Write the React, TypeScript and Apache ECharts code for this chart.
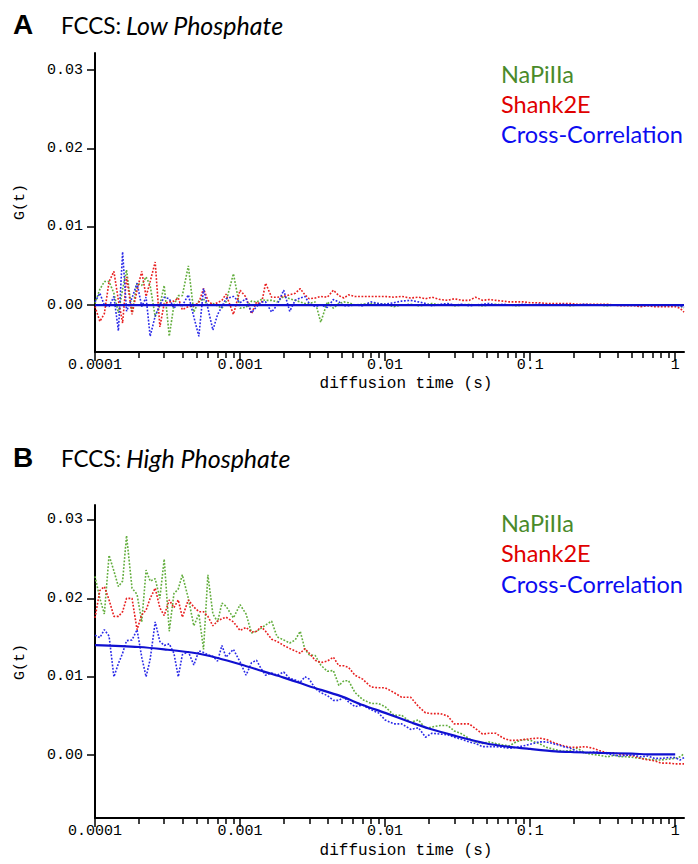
import React, { useEffect, useRef } from "react";
import * as echarts from "echarts";

// ---- shared lag-time axis (seconds) ----
const LAG_TIMES = [
  0.0001, 0.000108, 0.000116, 0.000125, 0.000135, 0.000145, 0.000155, 0.000165, 0.00018, 0.000195,
  0.00021, 0.000225, 0.00024, 0.00026, 0.00028, 0.0003, 0.000325, 0.00035, 0.000375, 0.0004,
  0.00044, 0.00048, 0.00052, 0.00056, 0.0006, 0.00065, 0.0007, 0.00075, 0.0008, 0.0009,
  0.001, 0.0011, 0.0012, 0.0013, 0.0014, 0.0015, 0.00165, 0.0018, 0.002, 0.0022,
  0.0024, 0.0026, 0.0028, 0.003, 0.0033, 0.0036, 0.004, 0.0044, 0.0048, 0.0052,
  0.0056, 0.0062, 0.007, 0.008, 0.009,
  0.01, 0.0115, 0.013, 0.015, 0.017, 0.019, 0.021, 0.024, 0.027, 0.03,
  0.034, 0.038, 0.042, 0.047, 0.052, 0.058, 0.065, 0.072, 0.08, 0.09,
  0.1, 0.115, 0.13, 0.15, 0.17, 0.19, 0.21, 0.24, 0.27, 0.3,
  0.34, 0.38, 0.42, 0.47, 0.52, 0.58, 0.65, 0.72, 0.8, 0.9,
  1.0, 1.08, 1.15,
];

const X_TICK_VALUES = [0.0001, 0.001, 0.01, 0.1, 1];
const X_TICK_LABELS = ["0.0001", "0.001", "0.01", "0.1", "1"];
const X_MINOR_TICKS = [
  0.0002, 0.0003, 0.0004, 0.0005, 0.0006, 0.0007, 0.0008, 0.0009,
  0.002, 0.003, 0.004, 0.005, 0.006, 0.007, 0.008, 0.009,
  0.02, 0.03, 0.04, 0.05, 0.06, 0.07, 0.08, 0.09,
  0.2, 0.3, 0.4, 0.5, 0.6, 0.7, 0.8, 0.9,
];
const X_MIN = 0.0001;
const X_MAX = 1.15;
const Y_TICKS = [0, 0.01, 0.02, 0.03];
const Y_TICK_LABELS = ["0.00", "0.01", "0.02", "0.03"];

const SERIES_NAMES = ["NaPiIIa", "Shank2E", "Cross-Correlation"];

// ---- Panel A: Low Phosphate ----
const LOW_NAPI = [
  0.0002, 0.0020, 0.0030, 0.0030, 0.0015, -0.0010, 0.0020, 0.0045, -0.0010, 0.0028,
  0.0025, 0.0036, 0.0025, -0.0015, 0.0000, 0.0025, -0.0040, 0.0000, 0.0012, 0.0012,
  0.0050, -0.0009, 0.0005, 0.0008, -0.0001, 0.0002, -0.0001, -0.0004, 0.0004, 0.0040,
  -0.0004, -0.0003, 0.0005, 0.0004, 0.0007, 0.0006, 0.0006, 0.0004, 0.0011, 0.0008,
  0.0006, 0.0004, 0.0002, 0.0002, 0.0004, -0.0022, 0.0004, -0.0004, 0.0002, 0.0004,
  0.0003, 0.0000, 0.0001, 0.0002, 0.0002,
  0.0001, -0.0002, 0.0000, 0.0001, -0.0001, 0.0000, 0.0002, 0.0000, 0.0001, -0.0001,
  0.0000, 0.0001, 0.0000, -0.0001, 0.0000, 0.0001, 0.0000, 0.0000, -0.0001, 0.0000,
  0.0000, 0.0000, 0.0001, 0.0000, 0.0000, -0.0001, 0.0000, 0.0000, 0.0000, 0.0000,
  -0.0001, 0.0000, 0.0000, 0.0000, 0.0000, -0.0001, 0.0000, 0.0000, 0.0000, 0.0000,
  0.0000, -0.0001, -0.0004,
];
const LOW_SHANK = [
  -0.0002, -0.0021, -0.0011, 0.0030, 0.0043, 0.0006, -0.0023, 0.0036, -0.0012, 0.0019,
  0.0043, 0.0011, 0.0030, 0.0055, -0.0028, 0.0002, 0.0004, 0.0005, 0.0009, -0.0006,
  -0.0002, -0.0001, 0.0003, 0.0021, 0.0006, 0.0000, 0.0003, 0.0006, 0.0014, -0.0012,
  0.0019, 0.0010, -0.0011, 0.0004, 0.0000, 0.0028, 0.0010, 0.0010, 0.0011, 0.0013,
  0.0015, 0.0021, 0.0013, 0.0008, 0.0009, 0.0011, 0.0010, 0.0019, 0.0012, 0.0009,
  0.0013, 0.0011, 0.0011, 0.0011, 0.0011,
  0.0011, 0.0010, 0.0011, 0.0009, 0.0010, 0.0008, 0.0010, 0.0007, 0.0006, 0.0008,
  0.0006, 0.0006, 0.0010, 0.0006, 0.0007, 0.0006, 0.0005, 0.0004, 0.0004, 0.0004,
  0.0003, 0.0003, 0.0002, 0.0002, 0.0002, 0.0002, 0.0001, 0.0001, 0.0001, 0.0001,
  0.0001, 0.0000, -0.0001, -0.0001, -0.0001, -0.0002, -0.0001, -0.0002, -0.0002, -0.0002,
  -0.0002, -0.0004, -0.0009,
];
const LOW_CROSS = [
  0.0004, 0.0015, 0.0000, -0.0002, 0.0011, -0.0033, 0.0068, -0.0008, 0.0009, 0.0028,
  -0.0002, 0.0010, -0.0040, -0.0014, 0.0000, 0.0010, 0.0008, -0.0004, 0.0002, -0.0001,
  0.0013, -0.0015, -0.0040, 0.0021, -0.0004, -0.0032, -0.0012, -0.0002, 0.0008, 0.0011,
  0.0003, 0.0008, -0.0010, -0.0002, 0.0004, 0.0004, -0.0009, 0.0000, 0.0019, -0.0008,
  0.0006, 0.0009, 0.0011, 0.0002, -0.0002, 0.0000, -0.0003, 0.0007, 0.0004, -0.0001,
  -0.0001, 0.0000, -0.0001, 0.0004, 0.0002,
  0.0001, 0.0003, 0.0005, 0.0006, 0.0004, 0.0002, -0.0001, 0.0001, 0.0002, 0.0000,
  0.0001, -0.0001, 0.0000, 0.0001, 0.0002, 0.0000, 0.0001, 0.0000, 0.0000, 0.0001,
  0.0000, 0.0001, 0.0000, 0.0000, 0.0001, 0.0000, 0.0000, 0.0001, 0.0000, 0.0000,
  0.0000, 0.0000, 0.0000, 0.0000, 0.0000, 0.0000, 0.0000, 0.0000, 0.0000, 0.0000,
  0.0000, -0.0001, -0.0003,
];
const LOW_FIT_T = [0.0001, 0.001, 0.01, 0.1, 1.15];
const LOW_FIT = [0, 0, 0, 0, 0];

// ---- Panel B: High Phosphate ----
const HIGH_NAPI = [
  0.0228, 0.0200, 0.0180, 0.0255, 0.0235, 0.0215, 0.0222, 0.0280, 0.0213, 0.0205,
  0.0170, 0.0236, 0.0222, 0.0225, 0.0200, 0.0250, 0.0158, 0.0206, 0.0212, 0.0230,
  0.0200, 0.0165, 0.0180, 0.0135, 0.0230, 0.0180, 0.0170, 0.0194, 0.0190, 0.0175,
  0.0192, 0.0180, 0.0156, 0.0158, 0.0162, 0.0166, 0.0171, 0.0151, 0.0147, 0.0143,
  0.0147, 0.0158, 0.0135, 0.0128, 0.0127, 0.0115, 0.0107, 0.0108, 0.0089, 0.0095,
  0.0095, 0.0080, 0.0071, 0.0066, 0.0066,
  0.0062, 0.0051, 0.0051, 0.0042, 0.0045, 0.0034, 0.0036, 0.0038, 0.0038, 0.0031,
  0.0027, 0.0021, 0.0017, 0.0015, 0.0017, 0.0015, 0.0013, 0.0012, 0.0017, 0.0020,
  0.0019, 0.0015, 0.0010, 0.0007, 0.0005, 0.0006, 0.0009, 0.0003, 0.0001, 0.0000,
  -0.0002, 0.0000, -0.0002, -0.0002, -0.0003, -0.0004, -0.0005, -0.0006, -0.0006, -0.0005,
  -0.0004, -0.0002, 0.0002,
];
const HIGH_SHANK = [
  0.0175, 0.0210, 0.0215, 0.0198, 0.0177, 0.0177, 0.0183, 0.0200, 0.0200, 0.0160,
  0.0179, 0.0185, 0.0200, 0.0213, 0.0188, 0.0178, 0.0198, 0.0188, 0.0198, 0.0176,
  0.0198, 0.0189, 0.0183, 0.0183, 0.0177, 0.0165, 0.0171, 0.0174, 0.0176, 0.0170,
  0.0159, 0.0163, 0.0157, 0.0158, 0.0164, 0.0158, 0.0148, 0.0145, 0.0140, 0.0136,
  0.0133, 0.0130, 0.0136, 0.0130, 0.0121, 0.0118, 0.0120, 0.0125, 0.0114, 0.0114,
  0.0112, 0.0102, 0.0097, 0.0087, 0.0086,
  0.0086, 0.0080, 0.0074, 0.0074, 0.0062, 0.0054, 0.0053, 0.0053, 0.0050, 0.0040,
  0.0040, 0.0040, 0.0034, 0.0027, 0.0028, 0.0028, 0.0022, 0.0019, 0.0019, 0.0020,
  0.0021, 0.0022, 0.0020, 0.0015, 0.0012, 0.0010, 0.0010, 0.0011, 0.0009, 0.0006,
  0.0003, 0.0003, 0.0001, 0.0000, -0.0001, -0.0004, -0.0006, -0.0007, -0.0010, -0.0010,
  -0.0011, -0.0011, -0.0011,
];
const HIGH_CROSS = [
  0.0153, 0.0150, 0.0160, 0.0152, 0.0100, 0.0117, 0.0130, 0.0146, 0.0147, 0.0160,
  0.0125, 0.0100, 0.0122, 0.0170, 0.0145, 0.0140, 0.0142, 0.0130, 0.0100, 0.0128,
  0.0132, 0.0115, 0.0133, 0.0131, 0.0128, 0.0126, 0.0120, 0.0140, 0.0125, 0.0135,
  0.0119, 0.0102, 0.0118, 0.0121, 0.0110, 0.0102, 0.0105, 0.0102, 0.0106, 0.0098,
  0.0096, 0.0093, 0.0100, 0.0097, 0.0085, 0.0080, 0.0076, 0.0070, 0.0070, 0.0074,
  0.0068, 0.0062, 0.0064, 0.0058, 0.0054,
  0.0045, 0.0040, 0.0040, 0.0033, 0.0035, 0.0023, 0.0028, 0.0027, 0.0026, 0.0023,
  0.0020, 0.0017, 0.0015, 0.0011, 0.0011, 0.0011, 0.0010, 0.0009, 0.0010, 0.0012,
  0.0014, 0.0017, 0.0017, 0.0014, 0.0011, 0.0009, 0.0005, 0.0003, 0.0004, 0.0004,
  0.0002, 0.0000, -0.0001, 0.0000, 0.0000, -0.0002, -0.0001, -0.0004, -0.0004, -0.0003,
  -0.0003, -0.0006, -0.0003,
];
const HIGH_FIT_T = [
  0.0001, 0.0002, 0.0003, 0.0005, 0.0007, 0.001, 0.0015, 0.002, 0.003, 0.005,
  0.007, 0.01, 0.015, 0.02, 0.03, 0.05, 0.07, 0.1, 0.15, 0.2, 0.3, 0.5, 0.7, 1.0,
];
const HIGH_FIT = [
  0.01405, 0.0138, 0.0135, 0.0130, 0.0124, 0.0116, 0.0106, 0.0099, 0.0088, 0.0075,
  0.0064, 0.0054, 0.0042, 0.0034, 0.0025, 0.0015, 0.0011, 0.0008, 0.0005, 0.0004,
  0.0003, 0.0002, 0.0001, 0.0001,
];

const MONO = "'Liberation Mono', 'Courier New', monospace";
const SANS = "Lato, 'Open Sans', sans-serif";
const BOLD = "'Liberation Sans', Arial, sans-serif";
const GREEN_LINE = "#62ad3d";
const RED_LINE = "#e81f1f";
const BLUE_LINE = "#2a2ae8";
const FIT_BLUE = "#1010d0";
const LEGEND_COLORS = ["#4a8a2a", "#e00000", "#0c0cf0"];

const lg = (t: number) => Math.log10(t);

function makeXAxes(gridIndex: number) {
  const base = {
    type: "value" as const,
    gridIndex,
    min: lg(X_MIN),
    max: lg(X_MAX),
    position: "bottom" as const,
    splitLine: { show: false },
  };
  return [
    {
      ...base,
      axisLine: { show: true, onZero: false, lineStyle: { color: "#000", width: 2 } },
      axisTick: {
        show: true,
        customValues: X_TICK_VALUES.map(lg),
        length: 9,
        lineStyle: { color: "#000", width: 1.5 },
      },
      axisLabel: {
        show: true,
        customValues: X_TICK_VALUES.map(lg),
        formatter: (v: number) => {
          const i = X_TICK_VALUES.findIndex((t) => Math.abs(lg(t) - v) < 1e-6);
          return i >= 0 ? X_TICK_LABELS[i] : "";
        },
        fontFamily: MONO,
        fontSize: 15,
        color: "#000",
        margin: 6,
      },
    },
    {
      ...base,
      axisLine: { show: false, onZero: false },
      axisTick: {
        show: true,
        customValues: X_MINOR_TICKS.map(lg),
        length: 6,
        lineStyle: { color: "#000", width: 1.5 },
      },
      axisLabel: { show: false },
    },
  ];
}

function makeYAxis(gridIndex: number, min: number, max: number) {
  return {
    type: "value" as const,
    gridIndex,
    min,
    max,
    splitLine: { show: false },
    axisLine: { show: true, onZero: false, lineStyle: { color: "#000", width: 2 } },
    axisTick: { show: true, customValues: Y_TICKS, length: 8, lineStyle: { color: "#000", width: 1.5 } },
    axisLabel: {
      customValues: Y_TICKS,
      formatter: (v: number) => {
        const i = Y_TICKS.findIndex((t) => Math.abs(t - v) < 1e-9);
        return i >= 0 ? Y_TICK_LABELS[i] : "";
      },
      fontFamily: MONO,
      fontSize: 15,
      color: "#000",
      margin: 12,
    },
  };
}

function dotted(name: string, values: number[], color: string, xIdx: number, yIdx: number) {
  return {
    type: "line" as const,
    name,
    xAxisIndex: xIdx,
    yAxisIndex: yIdx,
    data: LAG_TIMES.map((t, i) => [lg(t), values[i]]),
    showSymbol: false,
    symbol: "none",
    silent: true,
    lineStyle: { type: [1.8, 1.6], width: 1.6, color, cap: "butt" },
  };
}

function fitLine(ts: number[], values: number[], xIdx: number, yIdx: number) {
  return {
    type: "line" as const,
    name: "fit",
    xAxisIndex: xIdx,
    yAxisIndex: yIdx,
    data: ts.map((t, i) => [lg(t), values[i]]),
    showSymbol: false,
    symbol: "none",
    smooth: 0.3,
    silent: true,
    lineStyle: { type: "solid", width: 2.2, color: FIT_BLUE },
  };
}

function panelTexts(letter: string, subtitle: string, yOff: number, gMid: number, legendYs: number[]) {
  const els: any[] = [
    {
      type: "text",
      x: 13,
      y: 24 + yOff,
      style: { text: letter, fontFamily: BOLD, fontWeight: "bold", fontSize: 28, fill: "#000", align: "left", verticalAlign: "middle" },
    },
    {
      type: "text",
      x: 61,
      y: 25 + yOff,
      style: { text: "FCCS:", fontFamily: SANS, fontSize: 22.5, fill: "#000", align: "left", verticalAlign: "middle" },
    },
    {
      type: "text",
      x: 126,
      y: 25 + yOff,
      style: { text: subtitle, fontFamily: SANS, fontSize: 25, fontStyle: "italic", fill: "#000", align: "left", verticalAlign: "middle" },
    },
    {
      type: "text",
      x: 20,
      y: gMid,
      rotation: Math.PI / 2,
      style: { text: "G(t)", fontFamily: MONO, fontSize: 15, fill: "#000", align: "center", verticalAlign: "middle" },
    },
  ];
  SERIES_NAMES.forEach((n, i) => {
    els.push({
      type: "text",
      x: 501,
      y: legendYs[i],
      style: { text: n, fontFamily: SANS, fontSize: 23.5, fill: LEGEND_COLORS[i], align: "left", verticalAlign: "middle" },
    });
  });
  return els;
}

export default function App() {
  const ref = useRef<HTMLDivElement>(null);
  useEffect(() => {
    document.body.style.margin = "0";
    if (!ref.current) return;
    const chart = echarts.init(ref.current, undefined, { renderer: "svg" });
    const option: any = {
      animation: false,
      backgroundColor: "#fff",
      grid: [
        { left: 95, right: 14, top: 53, height: 299 },
        { left: 95, right: 14, top: 505, height: 313 },
      ],
      xAxis: [...makeXAxes(0), ...makeXAxes(1)],
      yAxis: [makeYAxis(0, -0.006, 0.0322), makeYAxis(1, -0.008, 0.0319)],
      series: [
        dotted(SERIES_NAMES[0], LOW_NAPI, GREEN_LINE, 0, 0),
        dotted(SERIES_NAMES[1], LOW_SHANK, RED_LINE, 0, 0),
        dotted(SERIES_NAMES[2], LOW_CROSS, BLUE_LINE, 0, 0),
        fitLine(LOW_FIT_T, LOW_FIT, 0, 0),
        dotted(SERIES_NAMES[0], HIGH_NAPI, GREEN_LINE, 2, 1),
        dotted(SERIES_NAMES[1], HIGH_SHANK, RED_LINE, 2, 1),
        dotted(SERIES_NAMES[2], HIGH_CROSS, BLUE_LINE, 2, 1),
        fitLine(HIGH_FIT_T, HIGH_FIT, 2, 1),
      ],
      graphic: [
        ...panelTexts("A", "Low Phosphate", 0, 202, [74, 104, 134]),
        ...panelTexts("B", "High Phosphate", 433, 662, [523, 553, 584]),
        {
          type: "text",
          x: 406,
          y: 384,
          style: { text: "diffusion time (s)", fontFamily: MONO, fontSize: 16, fill: "#000", align: "center", verticalAlign: "middle" },
        },
        {
          type: "text",
          x: 406,
          y: 851,
          style: { text: "diffusion time (s)", fontFamily: MONO, fontSize: 16, fill: "#000", align: "center", verticalAlign: "middle" },
        },
      ],
    };
    chart.setOption(option);
    return () => chart.dispose();
  }, []);
  return <div ref={ref} style={{ width: 698, height: 864 }} />;
}
